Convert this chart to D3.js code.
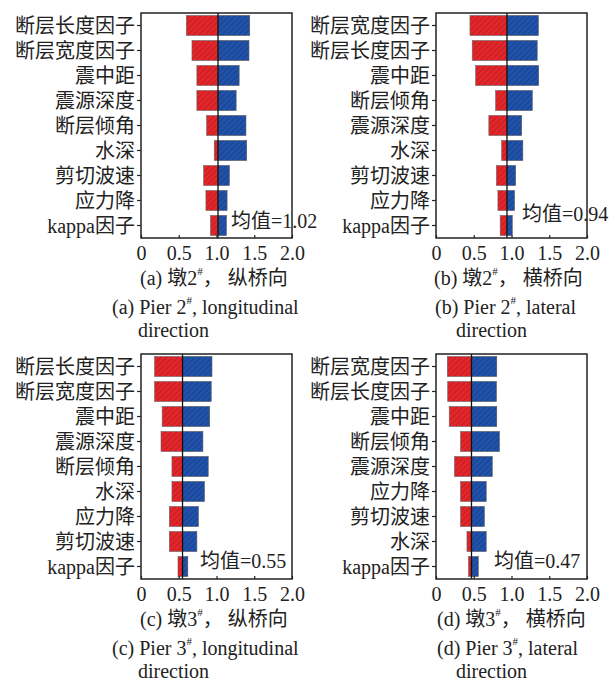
<!DOCTYPE html>
<html><head><meta charset="utf-8">
<script src="https://cdn.jsdelivr.net/npm/d3@7"></script>
<style>
html,body{margin:0;padding:0;background:#fff;}
svg text{font-family:"Liberation Serif","Times New Roman","Noto Sans CJK SC",serif !important;fill:#222;}
</style></head>
<body><svg id="c" width="613" height="682"></svg>
<script>
// ---- data ----
const catsA = ["断层长度因子","断层宽度因子","震中距","震源深度","断层倾角","水深","剪切波速","应力降","kappa因子"];
const lowA  = [0.60,0.675,0.74,0.74,0.87,0.97,0.83,0.86,0.92];
const highA = [1.44,1.43,1.30,1.26,1.39,1.40,1.17,1.14,1.13];
const meanA = 1.02;

const catsB = ["断层宽度因子","断层长度因子","震中距","断层倾角","震源深度","水深","剪切波速","应力降","kappa因子"];
const lowB  = [0.45,0.48,0.525,0.79,0.70,0.87,0.80,0.82,0.85];
const highB = [1.355,1.34,1.36,1.275,1.135,1.15,1.055,1.04,1.01];
const meanB = 0.94;

const catsC = ["断层长度因子","断层宽度因子","震中距","震源深度","断层倾角","水深","应力降","剪切波速","kappa因子"];
const lowC  = [0.18,0.18,0.28,0.265,0.41,0.41,0.375,0.375,0.49];
const highC = [0.94,0.93,0.91,0.82,0.89,0.84,0.76,0.74,0.62];
const meanC = 0.55;

const catsD = ["断层宽度因子","断层长度因子","震中距","断层倾角","震源深度","应力降","剪切波速","水深","kappa因子"];
const lowD  = [0.15,0.155,0.175,0.325,0.245,0.325,0.325,0.41,0.43];
const highD = [0.805,0.80,0.805,0.84,0.745,0.665,0.64,0.665,0.56];
const meanD = 0.47;

const xTicks = [0,0.5,1.0,1.5,2.0];
const xTickLabels = ["0","0.5","1.0","1.5","2.0"];

const panels = [
  {cats:catsA, low:lowA, high:highA, mean:meanA, letter:"(a)", pier:"2", zh:"纵桥向", en:"longitudinal",
   x0:141, y0:13, capX:140, enX:112, dirX:138, meanX:231, meanY:221},
  {cats:catsB, low:lowB, high:highB, mean:meanB, letter:"(b)", pier:"2", zh:"横桥向", en:"lateral",
   x0:436, y0:13, capX:434, enX:435, dirX:456, meanX:522, meanY:214},
  {cats:catsC, low:lowC, high:highC, mean:meanC, letter:"(c)", pier:"3", zh:"纵桥向", en:"longitudinal",
   x0:141, y0:354, capX:140, enX:112, dirX:138, meanX:200, meanY:561},
  {cats:catsD, low:lowD, high:highD, mean:meanD, letter:"(d)", pier:"3", zh:"横桥向", en:"lateral",
   x0:436, y0:354, capX:437, enX:437, dirX:456, meanX:494, meanY:561}
];

const W = 151, H = 225;
const svg = d3.select("#c");
const defs = svg.append("defs");
function hatch(id, bg, line){
  const p = defs.append("pattern").attr("id", id).attr("patternUnits","userSpaceOnUse")
    .attr("width",4).attr("height",4).attr("patternTransform","rotate(45)");
  p.append("rect").attr("width",4).attr("height",4).attr("fill",bg);
  p.append("line").attr("x1",0).attr("y1",0).attr("x2",0).attr("y2",4)
    .attr("stroke",line).attr("stroke-width",1.1);
}
hatch("hr","#e2262b","#a8161a");
hatch("hb","#2152aa","#12347a");

panels.forEach(P => {
  const g = svg.append("g").attr("transform",`translate(${P.x0},${P.y0})`);
  const x = d3.scaleLinear().domain([0,2]).range([0,W]);
  const y = d3.scaleBand().domain(P.cats).range([0,H]).paddingInner(0.2).paddingOuter(0.1);
  const data = P.cats.map((c,i)=>({c, lo:P.low[i], hi:P.high[i]}));

  g.selectAll("rect.r").data(data).join("rect").attr("class","r")
    .attr("x",d=>x(d.lo)).attr("width",d=>x(P.mean)-x(d.lo))
    .attr("y",d=>y(d.c)).attr("height",y.bandwidth())
    .attr("fill","url(#hr)").attr("stroke","#666").attr("stroke-width",0.6);
  g.selectAll("rect.b").data(data).join("rect").attr("class","b")
    .attr("x",x(P.mean)).attr("width",d=>x(d.hi)-x(P.mean))
    .attr("y",d=>y(d.c)).attr("height",y.bandwidth())
    .attr("fill","url(#hb)").attr("stroke","#555").attr("stroke-width",0.6);

  g.append("line").attr("x1",x(P.mean)).attr("x2",x(P.mean)).attr("y1",0).attr("y2",H)
    .attr("stroke","#111").attr("stroke-width",1.3);

  // y axis
  const ya = g.append("g").call(d3.axisLeft(y).tickSize(4).tickPadding(2));
  ya.attr("font-family",null);
  ya.select(".domain").remove();
  ya.selectAll("line").attr("stroke","#222").attr("stroke-width",1.2);
  ya.selectAll("text").attr("font-size","20px").attr("fill","#222").attr("dy","0.36em");

  // x axis (inward ticks)
  const xa = g.append("g").attr("transform",`translate(0,${H})`)
    .call(d3.axisBottom(x).tickValues(xTicks).tickSize(-3).tickPadding(8)
      .tickFormat((d,i)=>xTickLabels[i]));
  xa.attr("font-family",null);
  xa.select(".domain").remove();
  xa.selectAll("line").attr("stroke","#222").attr("stroke-width",1.2);
  xa.selectAll("text").attr("font-size","20px").attr("fill","#222");

  // frame
  g.append("rect").attr("x",0).attr("y",0).attr("width",W).attr("height",H)
    .attr("fill","none").attr("stroke","#222").attr("stroke-width",1.5);

  // mean label
  svg.append("text").attr("x",P.meanX).attr("y",P.meanY).attr("dy","0.35em")
    .attr("font-size","20px").text("均值=" + P.mean.toFixed(2));

  // captions
  const cy = P.y0 + 265;
  const t1 = svg.append("text").attr("x",P.capX).attr("y",cy).attr("dy","0.35em").attr("font-size","20px");
  t1.append("tspan").text(P.letter + " 墩" + P.pier);
  t1.append("tspan").attr("font-size","11px").attr("dy","-0.9em").text("#");
  t1.append("tspan").attr("dy","0.5em").text("，  " + P.zh);

  const t2 = svg.append("text").attr("x",P.enX).attr("y",cy+29).attr("dy","0.35em").attr("font-size","20px");
  t2.append("tspan").text(P.letter + " Pier " + P.pier);
  t2.append("tspan").attr("font-size","11px").attr("dy","-0.9em").text("#");
  t2.append("tspan").attr("dy","0.5em").text(", " + P.en);

  svg.append("text").attr("x",P.dirX).attr("y",cy+52).attr("dy","0.35em").attr("font-size","20px").text("direction");
});
</script></body></html>
